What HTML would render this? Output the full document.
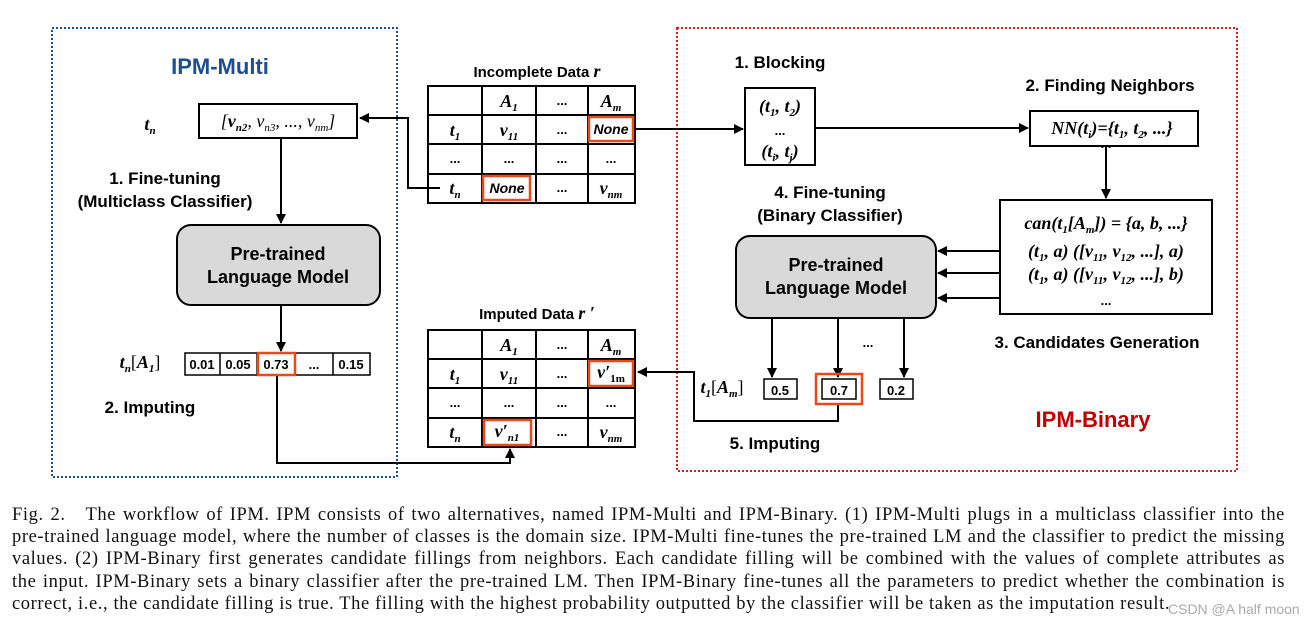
<!DOCTYPE html>
<html><head><meta charset="utf-8"><style>
body{margin:0;background:#fff;width:1304px;height:626px;overflow:hidden;position:relative}
svg{position:absolute;left:0;top:0}
.cap{position:absolute;left:12px;top:504px;width:1273px;font-family:"Liberation Serif",serif;font-size:18.5px;letter-spacing:0.6px;line-height:22.2px;color:#111}
.cap div{text-align:justify;text-align-last:justify;white-space:nowrap}
.cap div.l{text-align-last:left}
</style></head><body>
<svg width="1304" height="500" viewBox="0 0 1304 500" font-family="Liberation Sans, sans-serif">
<defs><marker id="a" markerWidth="10" markerHeight="10" refX="9" refY="5" orient="auto" markerUnits="userSpaceOnUse"><path d="M0,0L10,5L0,10z" fill="#000"/></marker></defs>
<rect x="52" y="28" width="345" height="449" fill="none" stroke="#1f4e8c" stroke-width="2" stroke-dasharray="2,2"/>
<rect x="677" y="28" width="560" height="443" fill="none" stroke="#d32020" stroke-width="2" stroke-dasharray="2,2"/>
<g font-weight="bold">
<text x="220" y="74" font-size="22" fill="#1f4e8c" text-anchor="middle">IPM-Multi</text>
<text x="1093" y="427" font-size="22" fill="#c00000" text-anchor="middle">IPM-Binary</text>
<text x="165" y="184" font-size="17" text-anchor="middle">1. Fine-tuning</text>
<text x="165" y="207" font-size="17" text-anchor="middle">(Multiclass Classifier)</text>
<text x="150" y="413" font-size="17" text-anchor="middle">2. Imputing</text>
<text x="537" y="77" font-size="15" text-anchor="middle">Incomplete Data <tspan font-family="Liberation Serif" font-style="italic" font-size="18">r</tspan></text>
<text x="537" y="319" font-size="15" text-anchor="middle">Imputed Data <tspan font-family="Liberation Serif" font-style="italic" font-size="18">r ′</tspan></text>
<text x="780" y="68" font-size="17" text-anchor="middle">1. Blocking</text>
<text x="1110" y="91" font-size="17" text-anchor="middle">2. Finding Neighbors</text>
<text x="830" y="198" font-size="17" text-anchor="middle">4. Fine-tuning</text>
<text x="830" y="221" font-size="17" text-anchor="middle">(Binary Classifier)</text>
<text x="1097" y="348" font-size="17" text-anchor="middle">3. Candidates Generation</text>
<text x="775" y="449" font-size="17" text-anchor="middle">5. Imputing</text>
</g>
<g fill="none" stroke="#000" stroke-width="2">
<rect x="199" y="104" width="158" height="34"/>
<rect x="177" y="225" width="203" height="80" rx="14" fill="#d9d9d9"/>
<rect x="736" y="236" width="200" height="82" rx="14" fill="#d9d9d9"/>
<rect x="745" y="88" width="70" height="77"/>
<rect x="1030" y="111" width="168" height="35"/>
<rect x="1000" y="200" width="212" height="114"/>
<rect x="185" y="353" width="185" height="22" stroke-width="1.5"/>
<path d="M220,353V375M257,353V375M295,353V375M333,353V375" stroke-width="1.5"/>
<rect x="428" y="86" width="207" height="117"/>
<path d="M482,86V203M536,86V203M588,86V203M428,115H635M428,144H635M428,174H635"/>
<rect x="428" y="330" width="207" height="117"/>
<path d="M482,330V447M536,330V447M588,330V447M428,359H635M428,388H635M428,418H635"/>
<rect x="764" y="379" width="33" height="20" stroke-width="1.5"/>
<rect x="822" y="379" width="34" height="20" stroke-width="1.5"/>
<rect x="880" y="379" width="33" height="20" stroke-width="1.5"/>
<path d="M281,138V223" marker-end="url(#a)"/>
<path d="M281,305V351" marker-end="url(#a)"/>
<path d="M277,375V463H510V449" marker-end="url(#a)"/>
<path d="M440,188H408V118H360" marker-end="url(#a)"/>
<path d="M634,129H743" marker-end="url(#a)"/>
<path d="M815,128H1028" marker-end="url(#a)"/>
<path d="M1106,146V198" marker-end="url(#a)"/>
<path d="M1000,251H938" marker-end="url(#a)"/>
<path d="M1000,273H938" marker-end="url(#a)"/>
<path d="M1000,298H938" marker-end="url(#a)"/>
<path d="M772,318V377" marker-end="url(#a)"/>
<path d="M838,318V377" marker-end="url(#a)"/>
<path d="M904,318V377" marker-end="url(#a)"/>
<path d="M838,403V421H694V372H638" marker-end="url(#a)"/>
</g>
<g fill="none" stroke="#e8491d" stroke-width="2.5">
<rect x="258" y="353" width="37" height="22"/>
<rect x="589" y="117" width="44" height="24"/>
<rect x="483" y="176" width="47" height="24"/>
<rect x="589" y="361" width="44" height="25"/>
<rect x="484" y="420" width="47" height="25"/>
<rect x="816" y="374" width="46" height="30"/>
</g>
<g font-weight="bold" font-size="13" text-anchor="middle">
<text x="202" y="369">0.01</text><text x="238" y="369">0.05</text><text x="276" y="369">0.73</text><text x="314" y="369">...</text><text x="351" y="369">0.15</text>
<text x="780" y="395">0.5</text><text x="839" y="395">0.7</text><text x="896" y="395">0.2</text>
<text x="868" y="347">...</text>
<text x="1106" y="148">...</text>
<text x="1106" y="305">...</text>
<text x="780" y="135">...</text>
</g>
<g font-weight="bold" font-size="18" text-anchor="middle">
<text x="278" y="260">Pre-trained</text><text x="278" y="283">Language Model</text>
<text x="836" y="271">Pre-trained</text><text x="836" y="294">Language Model</text>
</g>
<g font-family="Liberation Serif, serif" font-style="italic" font-weight="bold" font-size="18" text-anchor="middle">
<text x="150" y="130">t<tspan font-size="11" dy="4">n</tspan></text>
<text x="278" y="127" font-weight="normal">[<tspan font-weight="bold">v</tspan><tspan font-size="11" dy="4" font-weight="bold">n2</tspan><tspan dy="-4">, v</tspan><tspan font-size="11" dy="4">n3</tspan><tspan dy="-4">, ..., v</tspan><tspan font-size="11" dy="4">nm</tspan><tspan dy="-4">]</tspan></text>
<text x="140" y="368">t<tspan font-size="11" dy="4">n</tspan><tspan dy="-4" font-style="normal" font-weight="normal">[</tspan>A<tspan font-size="11" dy="4">1</tspan><tspan dy="-4" font-style="normal" font-weight="normal">]</tspan></text>
<text x="722" y="393">t<tspan font-size="11" dy="4">1</tspan><tspan dy="-4" font-style="normal" font-weight="normal">[</tspan>A<tspan font-size="11" dy="4">m</tspan><tspan dy="-4" font-style="normal" font-weight="normal">]</tspan></text>
<text x="780" y="112">(t<tspan font-size="11" dy="4">1</tspan><tspan dy="-4">, t</tspan><tspan font-size="11" dy="4">2</tspan><tspan dy="-4">)</tspan></text>
<text x="780" y="157">(t<tspan font-size="11" dy="4">i</tspan><tspan dy="-4">, t</tspan><tspan font-size="11" dy="4">j</tspan><tspan dy="-4">)</tspan></text>
<text x="1112" y="134">NN(t<tspan font-size="11" dy="4">i</tspan><tspan dy="-4">)={t</tspan><tspan font-size="11" dy="4">1</tspan><tspan dy="-4">, t</tspan><tspan font-size="11" dy="4">2</tspan><tspan dy="-4">, ...}</tspan></text>
<text x="1106" y="229">can(t<tspan font-size="11" dy="4">1</tspan><tspan dy="-4">[A</tspan><tspan font-size="11" dy="4">m</tspan><tspan dy="-4">]) = {a, b, ...}</tspan></text>
<text x="1106" y="257">(t<tspan font-size="11" dy="4">1</tspan><tspan dy="-4">, a) ([v</tspan><tspan font-size="11" dy="4">11</tspan><tspan dy="-4">, v</tspan><tspan font-size="11" dy="4">12</tspan><tspan dy="-4">, ...], a)</tspan></text>
<text x="1106" y="280">(t<tspan font-size="11" dy="4">1</tspan><tspan dy="-4">, a) ([v</tspan><tspan font-size="11" dy="4">11</tspan><tspan dy="-4">, v</tspan><tspan font-size="11" dy="4">12</tspan><tspan dy="-4">, ...], b)</tspan></text>
<text x="509" y="107">A<tspan font-size="11" dy="4">1</tspan></text><text x="611" y="107">A<tspan font-size="11" dy="4">m</tspan></text>
<text x="455" y="136">t<tspan font-size="11" dy="4">1</tspan></text><text x="509" y="136">v<tspan font-size="11" dy="4">11</tspan></text>
<text x="455" y="194">t<tspan font-size="11" dy="4">n</tspan></text><text x="611" y="194">v<tspan font-size="11" dy="4">nm</tspan></text>
<text x="509" y="351">A<tspan font-size="11" dy="4">1</tspan></text><text x="611" y="351">A<tspan font-size="11" dy="4">m</tspan></text>
<text x="455" y="380">t<tspan font-size="11" dy="4">1</tspan></text><text x="509" y="380">v<tspan font-size="11" dy="4">11</tspan></text>
<text x="611" y="378">v′<tspan font-size="11" dy="4" font-style="normal">1m</tspan></text>
<text x="455" y="438">t<tspan font-size="11" dy="4">n</tspan></text><text x="507" y="437">v′<tspan font-size="11" dy="4">n1</tspan></text>
<text x="611" y="438">v<tspan font-size="11" dy="4">nm</tspan></text>
</g>
<g font-weight="bold" font-style="italic" font-size="14" text-anchor="middle">
<text x="611" y="134">None</text><text x="507" y="193">None</text>
</g>
<g font-weight="bold" font-size="13" text-anchor="middle">
<text x="562" y="105">...</text><text x="562" y="134">...</text><text x="562" y="163">...</text><text x="562" y="192">...</text>
<text x="455" y="163">...</text><text x="509" y="163">...</text><text x="611" y="163">...</text>
<text x="562" y="349">...</text><text x="562" y="378">...</text><text x="562" y="407">...</text><text x="562" y="436">...</text>
<text x="455" y="407">...</text><text x="509" y="407">...</text><text x="611" y="407">...</text>
</g>
</svg>
<div class="cap">
<div>Fig. 2.&nbsp;&nbsp; The workflow of IPM. IPM consists of two alternatives, named IPM-Multi and IPM-Binary. (1) IPM-Multi plugs in a multiclass classifier into the</div>
<div>pre-trained language model, where the number of classes is the domain size. IPM-Multi fine-tunes the pre-trained LM and the classifier to predict the missing</div>
<div>values. (2) IPM-Binary first generates candidate fillings from neighbors. Each candidate filling will be combined with the values of complete attributes as</div>
<div>the input. IPM-Binary sets a binary classifier after the pre-trained LM. Then IPM-Binary fine-tunes all the parameters to predict whether the combination is</div>
<div class="l">correct, i.e., the candidate filling is true. The filling with the highest probability outputted by the classifier will be taken as the imputation result.</div>
</div>
<div style="position:absolute;left:1168px;top:601px;font-family:'Liberation Sans',sans-serif;font-size:14px;color:#aaa;white-space:nowrap">CSDN @A half moon</div>
</body></html>
